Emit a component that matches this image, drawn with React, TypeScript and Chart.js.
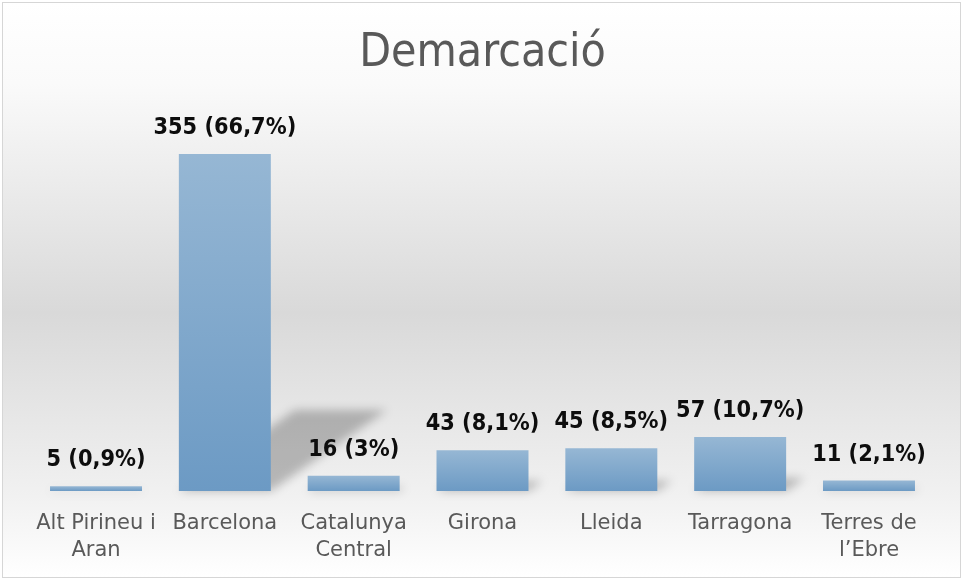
import React, { useEffect, useRef } from "react";
import { Chart, registerables } from "chart.js";
Chart.register(...registerables);

const categories: (string | string[])[] = [
  ["Alt Pirineu i", "Aran"],
  "Barcelona",
  ["Catalunya", "Central"],
  "Girona",
  "Lleida",
  "Tarragona",
  ["Terres de", "l’Ebre"],
];
const counts = [5, 355, 16, 43, 45, 57, 11];
const percents = ["0,9", "66,7", "3", "8,1", "8,5", "10,7", "2,1"];
const yMax = 400;
const titleText = "Demarcació";

const shadowPlugin = {
  id: "barShadow",
  beforeDatasetsDraw(chart: any) {
    const meta = chart.getDatasetMeta(0);
    const ctx = chart.ctx;
    ctx.save();
    ctx.filter = "blur(5px)";
    ctx.fillStyle = "rgba(0,0,0,0.24)";
    meta.data.forEach((el: any) => {
      const h = el.base - el.y;
      const l = el.x - el.width / 2;
      const r = el.x + el.width / 2;
      const dx = 0.344 * h;
      const dy = 0.24 * h;
      ctx.beginPath();
      ctx.moveTo(l, el.base);
      ctx.lineTo(r, el.base);
      ctx.lineTo(r + dx, el.base - dy);
      ctx.lineTo(l + dx, el.base - dy);
      ctx.closePath();
      ctx.fill();
    });
    ctx.restore();
  },
};

const labelPlugin = {
  id: "barLabels",
  afterDatasetsDraw(chart: any) {
    const meta = chart.getDatasetMeta(0);
    const ctx = chart.ctx;
    meta.data.forEach((el: any, i: number) => {
      ctx.save();
      ctx.font = 'bold 23px "DejaVu Sans"';
      ctx.fillStyle = "#0d0d0d";
      ctx.textAlign = "center";
      ctx.textBaseline = "middle";
      ctx.translate(el.x, el.y - 26);
      ctx.scale(0.91, 1);
      ctx.fillText(`${counts[i]} (${percents[i]}%)`, 0, 0);
      ctx.restore();
    });
  },
};

export default function App() {
  const ref = useRef<HTMLCanvasElement>(null);
  useEffect(() => {
    if (!ref.current) return;
    const chart = new Chart(ref.current, {
      type: "bar",
      data: {
        labels: categories,
        datasets: [
          {
            data: counts,
            backgroundColor: (c: any) => {
              const ch = c.chart;
              const ys = ch.scales && ch.scales.y;
              if (!ys || c.type !== "data") return "#7fa7cb";
              const top = ys.getPixelForValue(counts[c.dataIndex]);
              const bot = ys.getPixelForValue(0);
              if (!isFinite(top) || !isFinite(bot) || top === bot) return "#7fa7cb";
              const g = ch.ctx.createLinearGradient(0, top, 0, bot);
              g.addColorStop(0, "#96b7d4");
              g.addColorStop(1, "#6c9ac4");
              return g;
            },
            borderWidth: 0,
            categoryPercentage: 0.714,
            barPercentage: 1,
          },
        ],
      },
      options: {
        animation: false,
        responsive: false,
        maintainAspectRatio: false,
        layout: { padding: { left: 31.6, right: 28.6, top: 26, bottom: -3.2 } },
        plugins: {
          legend: { display: false },
          tooltip: { enabled: false },
          title: {
            display: true,
            text: titleText,
            color: "#595959",
            font: { family: "DejaVu Sans Condensed", size: 46, weight: "normal", lineHeight: 1.2 },
            padding: { top: 0, bottom: 30 },
          },
        },
        scales: {
          x: {
            grid: { display: false, drawTicks: false },
            border: { display: false },
            ticks: {
              color: "#595959",
              font: { family: "DejaVu Sans", size: 21, lineHeight: 1.29 },
              padding: 18.5,
              maxRotation: 0,
              autoSkip: false,
            },
          },
          y: {
            display: false,
            min: 0,
            max: yMax,
          },
        },
      },
      plugins: [shadowPlugin, labelPlugin],
    });
    return () => chart.destroy();
  }, []);

  return (
    <div style={{ position: "fixed", left: 0, top: 0, width: 962, height: 579, background: "#fff" }}>
      <div
        style={{
          position: "absolute",
          left: 2,
          top: 2,
          width: 957,
          height: 574,
          border: "1.5px solid #d6d6d6",
          background:
            "linear-gradient(to bottom, #ffffff 0%, #fafafa 14%, #d9d9d9 54%, #f1f1f1 86%, #ffffff 100%)",
        }}
      />
      <canvas ref={ref} width={962} height={579} style={{ position: "absolute", left: 0, top: 0 }} />
    </div>
  );
}
